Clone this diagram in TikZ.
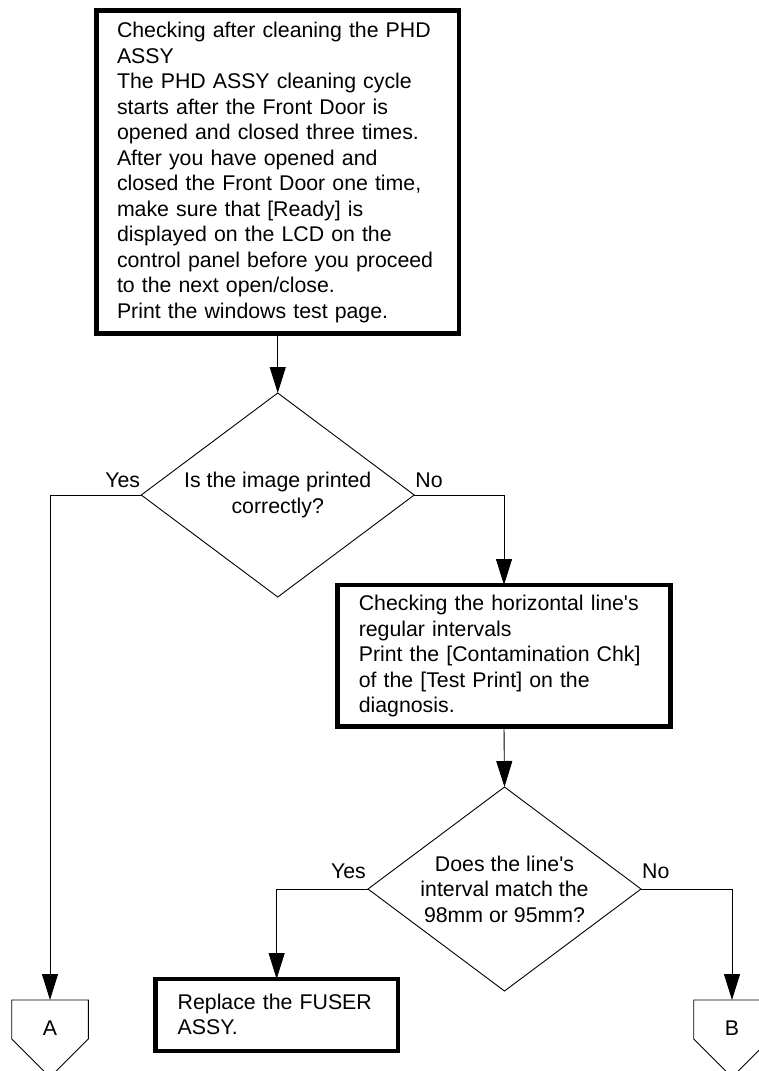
\documentclass[tikz,border=0pt]{standalone}
\usepackage{fontspec}
\setmainfont{Liberation Sans}
\usetikzlibrary{arrows.meta,shapes.geometric,calc}
\begin{document}
\begin{tikzpicture}[x=1pt,y=-1pt,
  every node/.style={font=\fontsize{21.3pt}{25.5pt}\selectfont},
  procbox/.style={draw, line width=4.5pt, rectangle, anchor=north west, align=left, inner ysep=0pt, outer sep=0pt},
  decision/.style={draw, line width=0.9pt, diamond, shape aspect=1.338, minimum width=273pt, minimum height=204pt, inner sep=0pt, outer sep=0pt, align=center},
  conn/.style={line width=0.9pt},
  arr/.style={conn, -{Triangle[length=26pt,width=16pt]}},
  lbl/.style={inner sep=0pt},
  offpage/.style={minimum width=76.6pt, minimum height=56pt, inner sep=0pt, outer sep=0pt, anchor=north}
]
\clip (0,0) rectangle (759,1071);
\node[procbox, inner xsep=20.5pt, text width=321.5pt, text height=27pt, text depth=296pt] (start) at (96.5,10.5)
 {Checking after cleaning the PHD\\
  ASSY\\
  The PHD ASSY cleaning cycle\\
  starts after the Front Door is\\
  opened and closed three times.\\
  After you have opened and\\
  closed the Front Door one time,\\
  make sure that [Ready] is\\
  displayed on the LCD on the\\
  control panel before you proceed\\
  to the next open/close.\\
  Print the windows test page.};
\node[decision] (d1) at (277.75,495) {Is the image printed\\correctly?};
\node[procbox, inner xsep=21.4pt, text width=290.4pt, text height=25.7pt, text depth=116pt] (box2) at (337.4,585)
 {Checking the horizontal line\textquotesingle s\\
  regular intervals\\
  Print the [Contamination Chk]\\
  of the [Test Print] on the\\
  diagnosis.};
\node[decision] (d2) at (504.5,889) {Does the line\textquotesingle s\\interval match the\\98mm or 95mm?};
\node[procbox, inner xsep=22.4pt, text width=197.9pt, text height=30pt, text depth=42pt] (fuser) at (155.3,979)
 {Replace the FUSER\\ASSY.};
\node[offpage] (A) at (50,1000) {A};
\node[offpage] (B) at (732,1000) {B};
\draw[conn] (A.north west) -- ++(0,39) -- ($(A.north)+(0,77.3)$) -- ($(A.north east)+(0,39)$) -- (A.north east) -- cycle;
\draw[conn] (B.north west) -- ++(0,39) -- ($(B.north)+(0,77.3)$) -- ($(B.north east)+(0,39)$) -- (B.north east) -- cycle;
\node[lbl, anchor=base east] (y1) at ($(d1.west)+(-1,-8)$) {Yes};
\node[lbl, anchor=base west] (n1) at ($(d1.east)+(1,-8)$) {No};
\node[lbl, anchor=base east] (y2) at ($(d2.west)+(-2,-11)$) {Yes};
\node[lbl, anchor=base west] (n2) at ($(d2.east)+(1,-11)$) {No};
\draw[arr] (start.south) -- (d1.north);
\draw[arr] (d1.west) -| (A.north);
\draw[arr] (d1.east) -| (box2.north);
\draw[arr] (box2.south) -- (d2.north);
\draw[arr] (d2.west) -| (fuser.north);
\draw[arr] (d2.east) -| (B.north);
\end{tikzpicture}
\end{document}
